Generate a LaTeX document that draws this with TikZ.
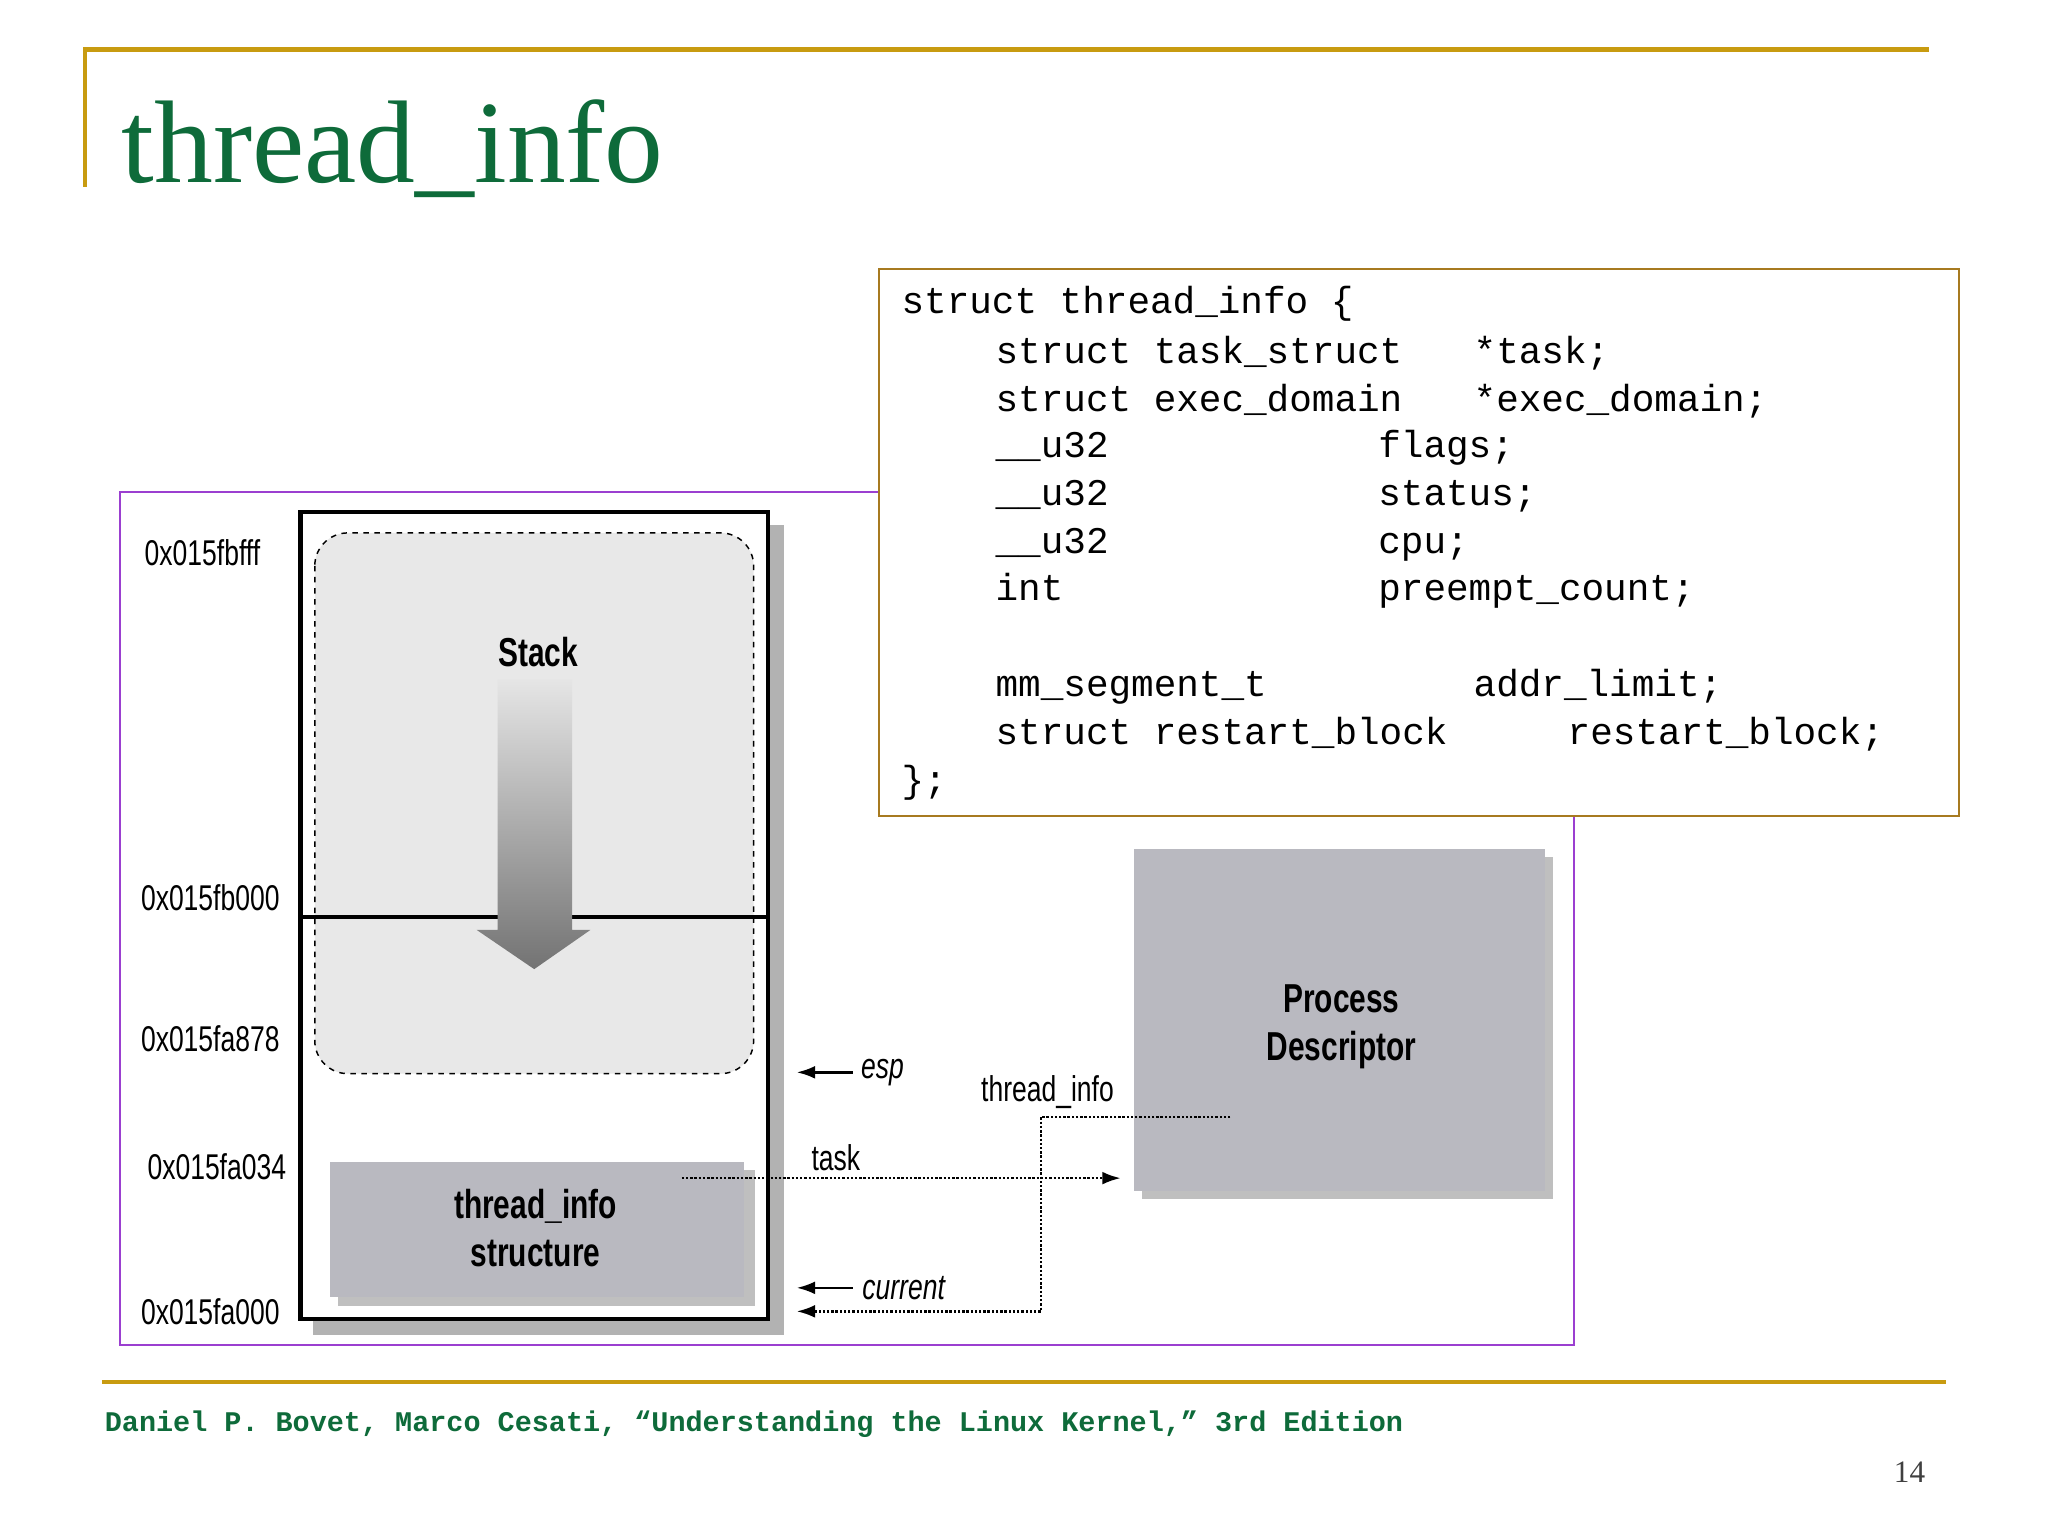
\documentclass[tikz,border=0pt]{standalone}
\usepackage{fontspec}
\setmainfont{Liberation Serif}
\setmonofont{Liberation Mono}
\newfontfamily\cond[FakeStretch=0.74]{Liberation Sans}
\usetikzlibrary{arrows.meta}
\definecolor{gold}{HTML}{C89B10}
\definecolor{ttl}{HTML}{0E6B3A}
\definecolor{purp}{HTML}{9B3FD0}
\definecolor{cbox}{HTML}{A77A20}
\definecolor{boxg}{HTML}{B9B9C0}
\tikzset{
 lab/.style={font=\cond\fontsize{19.5}{22}\selectfont,inner sep=0},
 blab/.style={font=\cond\bfseries\fontsize{22}{26}\selectfont,inner sep=0,align=center},
 code/.style={font=\ttfamily\fontsize{20.5}{24}\selectfont,anchor=base west,inner sep=0},
 dotl/.style={densely dotted,line width=1.3pt},
 arr/.style={-{Latex[length=10pt,width=7pt]}},
}
\begin{document}
\begin{tikzpicture}[x=0.025cm,y=-0.025cm]
\useasboundingbox (0,0) rectangle (1568,1176);
% header
\draw[gold,line width=2.5pt] (65,143) -- (65,38) -- (1477,38);
\node[anchor=base west,inner sep=0,text=ttl,font=\fontsize{64}{70}\selectfont] (title) at (93,140) {thread\_info};
% purple frame
\draw[purp,line width=1pt] (92,377) rectangle (1205,1030);
% stack column shadow + box
\fill[black!30] (240,402) rectangle (600,1022);
\fill[white] (230,392) rectangle (588,1010);
\draw[rounded corners=18pt,dashed,fill=black!9,line width=0.8pt] (241,408) rectangle (577,822);
\draw[line width=2.5pt] (230,392) rectangle (588,1010);
\draw[line width=1.8pt] (230,702) -- (588,702);
\shade[top color=black!10,bottom color=black!55] (381,520) -- (438,520) -- (438,712) -- (452,712) -- (409,742) -- (365,712) -- (381,712) -- cycle;
\node[blab] (stack) at (412,499) {Stack};
% thread_info structure
\fill[black!25] (259,896) rectangle (578,1000);
\fill[boxg] (253,890) rectangle (570,993);
\node[blab] (tis) at (410,940) {thread\_info\\structure};
% process descriptor
\fill[black!25] (874,656) rectangle (1189,918);
\fill[boxg] (868,650) rectangle (1183,912);
\node[blab] (pd) at (1027,786) {Process\\Descriptor};
% addresses
\node[lab] (a1) at (155,423) {0x015fbfff};
\node[lab] (a2) at (161,687) {0x015fb000};
\node[lab] (a3) at (161,795) {0x015fa878};
\node[lab] (a4) at (166,893) {0x015fa034};
\node[lab] (a5) at (161,1004) {0x015fa000};
% pointers
\coordinate (espS) at (653,821); \coordinate (espE) at (610,821);
\draw[arr,line width=1.3pt] (espS) -- (espE);
\node[lab,anchor=west,font=\cond\itshape\fontsize{19.5}{22}\selectfont] (esp) at (659,821) {esp};
\coordinate (curS) at (653,986); \coordinate (curE) at (610,986);
\draw[arr,line width=1.3pt] (curS) -- (curE);
\node[lab,anchor=west,font=\cond\itshape\fontsize{19.5}{22}\selectfont] (cur) at (660,986) {current};
\coordinate (tS) at (522,902); \coordinate (tE) at (858,902);
\draw[dotl,arr] (tS) -- (tE);
\node[lab] (task) at (640,886) {task};
\coordinate (ti1) at (942,855); \coordinate (ti2) at (797,855);
\coordinate (ti3) at (797,1004); \coordinate (ti4) at (610,1004);
\draw[dotl,arr] (ti1) -- (ti2) -- (ti3) -- (ti4);
\node[lab] (til) at (802,836) {thread\_info};
% code box
\draw[cbox,line width=1.2pt,fill=white] (673,206) rectangle (1500,625);
\node[code] at (690,240) {struct thread\_info \{};
\node[code] at (762,278) {struct task\_struct};
\node[code] at (1128,278) {*task;};
\node[code] at (762,315) {struct exec\_domain};
\node[code] at (1128,315) {*exec\_domain;};
\node[code] at (762,350) {\_\_u32};
\node[code] at (1055,350) {flags;};
\node[code] at (762,387) {\_\_u32};
\node[code] at (1055,387) {status;};
\node[code] at (762,424) {\_\_u32};
\node[code] at (1055,424) {cpu;};
\node[code] at (762,460) {int};
\node[code] at (1055,460) {preempt\_count;};
\node[code] at (762,533) {mm\_segment\_t};
\node[code] at (1128,533) {addr\_limit;};
\node[code] at (762,570) {struct restart\_block};
\node[code] at (1200,570) {restart\_block;};
\node[code] at (690,607) {\};};
% footer
\draw[gold,line width=2.5pt] (78,1058) -- (1490,1058);
\node[anchor=base west,inner sep=0,text=ttl,font=\ttfamily\bfseries\fontsize{15.5}{18}\selectfont] (foot) at (80,1096) {Daniel P. Bovet, Marco Cesati, “Understanding the Linux Kernel,” 3rd Edition};
\node[inner sep=0,font=\fontsize{17}{20}\selectfont,text=black!75] (pg) at (1462,1127) {14};
\end{tikzpicture}
\end{document}
